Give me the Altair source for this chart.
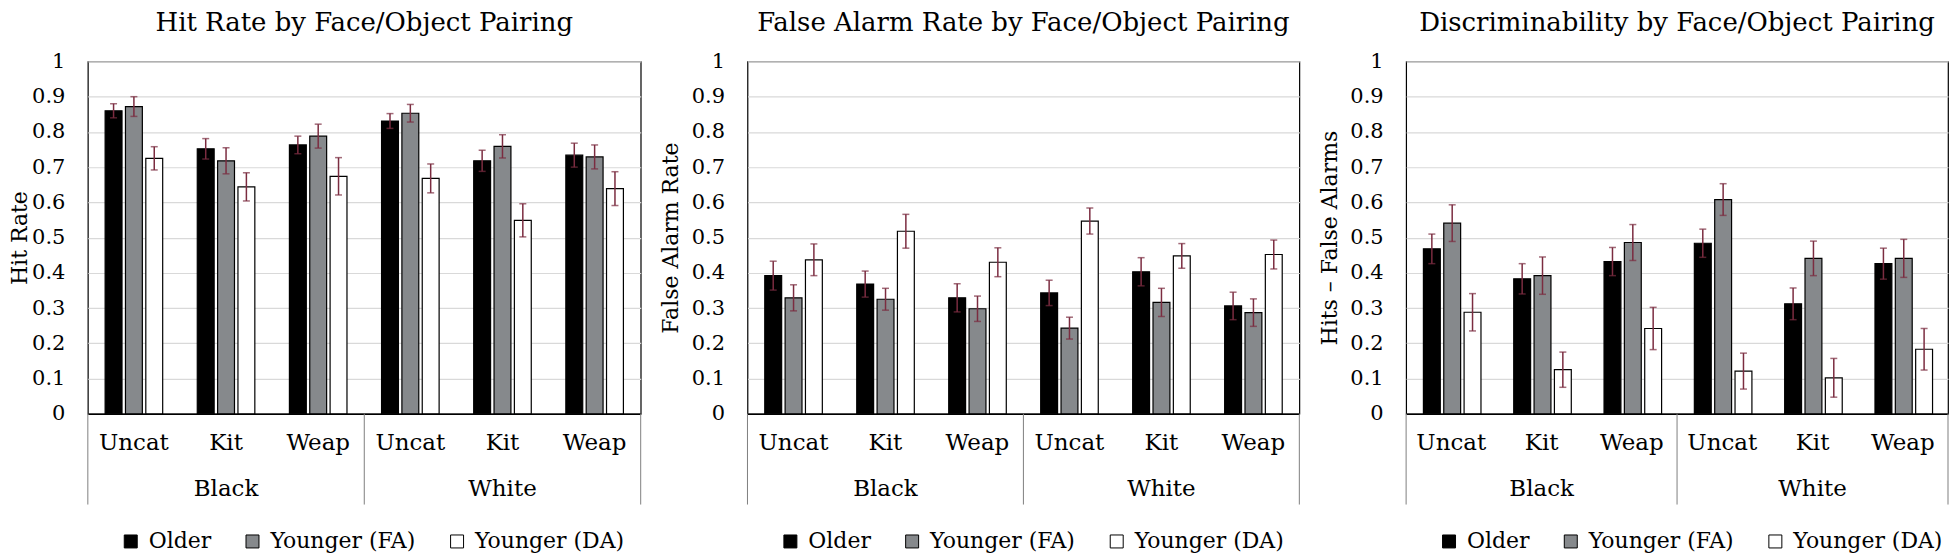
import altair as alt
import pandas as pd

# ---------------- data ----------------
races = ["Black", "White"]
categories = ["Uncat", "Kit", "Weap"]
groups = ["Older", "Younger (FA)", "Younger (DA)"]
cat_keys = [f"{r}|{c}" for r in races for c in categories]

# order of each list follows cat_keys
hit_older = [0.860, 0.752, 0.763, 0.831, 0.718, 0.734]
hit_fa = [0.872, 0.718, 0.788, 0.853, 0.759, 0.729]
hit_da = [0.725, 0.644, 0.674, 0.668, 0.549, 0.639]
hit_err_older = [0.020, 0.029, 0.025, 0.021, 0.030, 0.034]
hit_err_fa = [0.028, 0.037, 0.034, 0.025, 0.033, 0.034]
hit_err_da = [0.033, 0.040, 0.053, 0.041, 0.047, 0.048]

fa_older = [0.392, 0.368, 0.329, 0.343, 0.403, 0.306]
fa_fa = [0.329, 0.325, 0.298, 0.243, 0.316, 0.287]
fa_da = [0.437, 0.518, 0.430, 0.547, 0.448, 0.452]
fa_err_older = [0.041, 0.037, 0.040, 0.036, 0.040, 0.039]
fa_err_fa = [0.037, 0.031, 0.036, 0.031, 0.040, 0.039]
fa_err_da = [0.045, 0.048, 0.041, 0.037, 0.035, 0.041]

d_older = [0.468, 0.383, 0.432, 0.484, 0.312, 0.426]
d_fa = [0.541, 0.392, 0.486, 0.608, 0.441, 0.441]
d_da = [0.288, 0.125, 0.242, 0.121, 0.102, 0.183]
d_err_older = [0.042, 0.043, 0.040, 0.040, 0.045, 0.044]
d_err_fa = [0.052, 0.053, 0.051, 0.045, 0.049, 0.054]
d_err_da = [0.053, 0.050, 0.060, 0.051, 0.055, 0.059]

y_ticks = [0, 0.1, 0.2, 0.3, 0.4, 0.5, 0.6, 0.7, 0.8, 0.9, 1]
group_label_keys = ["Black|Kit", "White|Kit"]

FONT = "DejaVu Serif"
ERR = "#7b2c40"
H = 353


def panel(title, ytitle, vals, errs, width, title_x):
    rows = []
    for gi, g in enumerate(groups):
        for ci, ck in enumerate(cat_keys):
            v = vals[gi][ci]
            e = errs[gi][ci]
            rows.append(dict(cat=ck, grp=g, val=v, lo=v - e, hi=v + e))
    df = pd.DataFrame(rows)

    xscale = alt.Scale(domain=cat_keys, paddingInner=0, paddingOuter=0)
    xaxis = alt.Axis(title=None, labelExpr="split(datum.label, '|')[1]",
                     ticks=False, domain=True, domainColor="black",
                     domainWidth=1.5, labelFontSize=23, labelPadding=18,
                     labelAngle=0, grid=False, labelColor="black",
                     labelFont=FONT)
    xoff = alt.XOffset("grp:N", scale=alt.Scale(domain=groups, paddingInner=0.17,
                                                paddingOuter=0.85))
    yaxis = alt.Axis(title=ytitle, values=y_ticks, format="~g", grid=True,
                     tickCount=len(y_ticks) + 5, labelOverlap=False,
                     gridColor="#d9d9d9", gridWidth=1.2, domain=False,
                     ticks=False, labelFontSize=21, labelPadding=23,
                     labelColor="black", labelFont=FONT,
                     titleFontSize=22, titleFont=FONT, titleColor="black",
                     titleFontWeight="normal", titleX=title_x, titleY=H / 2,
                     titleAngle=-90, titleAlign="center",
                     titleBaseline="middle")
    yscale = alt.Scale(domain=[0, 1], nice=False, zero=True)

    color = alt.Color("grp:N",
                      scale=alt.Scale(domain=groups,
                                      range=["#000000", "#86898c", "#ffffff"]),
                      legend=alt.Legend(title=None, orient="none", legendX=32,
                                        legendY=470, direction="horizontal",
                                        symbolType="square", symbolSize=169,
                                        symbolStrokeColor="black",
                                        symbolStrokeWidth=1, labelFontSize=22,
                                        labelFont=FONT, labelColor="black",
                                        labelOffset=7, columnPadding=30))

    base = alt.Chart(df)
    bars = base.mark_bar(stroke="black", strokeWidth=1.2).encode(
        x=alt.X("cat:N", scale=xscale, axis=xaxis, sort=cat_keys),
        xOffset=xoff,
        y=alt.Y("val:Q", scale=yscale, axis=yaxis),
        color=color,
    )
    err = base.mark_rule(color=ERR, strokeWidth=1.5).encode(
        x=alt.X("cat:N", scale=xscale, axis=xaxis, sort=cat_keys), xOffset=xoff,
        y=alt.Y("lo:Q", scale=yscale, axis=yaxis), y2="hi:Q")
    cap_lo = base.mark_tick(color=ERR, size=7, thickness=1.5).encode(
        x=alt.X("cat:N", scale=xscale, axis=xaxis, sort=cat_keys), xOffset=xoff,
        y=alt.Y("lo:Q", scale=yscale, axis=yaxis))
    cap_hi = base.mark_tick(color=ERR, size=7, thickness=1.5).encode(
        x=alt.X("cat:N", scale=xscale, axis=xaxis, sort=cat_keys), xOffset=xoff,
        y=alt.Y("hi:Q", scale=yscale, axis=yaxis))

    div_left = pd.DataFrame({"cat": [cat_keys[0], cat_keys[3]]})
    div_right = pd.DataFrame({"cat": [cat_keys[5]]})
    rule_l = alt.Chart(div_left).mark_rule(color="#7f7f7f", strokeWidth=1).encode(
        x=alt.X("cat:N", bandPosition=0, scale=xscale, axis=xaxis, sort=cat_keys),
        y=alt.value(H), y2=alt.value(H + 91))
    rule_r = alt.Chart(div_right).mark_rule(color="#7f7f7f", strokeWidth=1).encode(
        x=alt.X("cat:N", bandPosition=1, scale=xscale, axis=xaxis, sort=cat_keys),
        y=alt.value(H), y2=alt.value(H + 91))

    glab = pd.DataFrame({"cat": group_label_keys, "label": races})
    gtext = alt.Chart(glab).mark_text(fontSize=23, font=FONT, color="black",
                                      baseline="middle").encode(
        x=alt.X("cat:N", scale=xscale, axis=xaxis, sort=cat_keys),
        y=alt.value(H + 75), text="label:N")

    return alt.layer(bars, err, cap_lo, cap_hi, rule_l, rule_r, gtext).properties(
        width=width, height=H,
        title=alt.TitleParams(title, fontSize=26, fontWeight="normal",
                              font=FONT, color="black", offset=15,
                              anchor="middle"))


p1 = panel("Hit Rate by Face/Object Pairing", "Hit Rate",
           [hit_older, hit_fa, hit_da], [hit_err_older, hit_err_fa, hit_err_da],
           554, -68)
p2 = panel("False Alarm Rate by Face/Object Pairing", "False Alarm Rate",
           [fa_older, fa_fa, fa_da], [fa_err_older, fa_err_fa, fa_err_da],
           553, -77)
p3 = panel("Discriminability by Face/Object Pairing", "Hits \u2013 False Alarms",
           [d_older, d_fa, d_da], [d_err_older, d_err_fa, d_err_da],
           543, -77)

chart = alt.hconcat(p1, p2, p3, spacing=16).resolve_scale(
    color="independent", x="independent", y="independent"
).resolve_legend(color="independent").properties(padding=0).configure(
    font=FONT
).configure_view(stroke="black", strokeWidth=1.2)

chart.save("out.html", embed_options={"renderer": "svg", "actions": False})
